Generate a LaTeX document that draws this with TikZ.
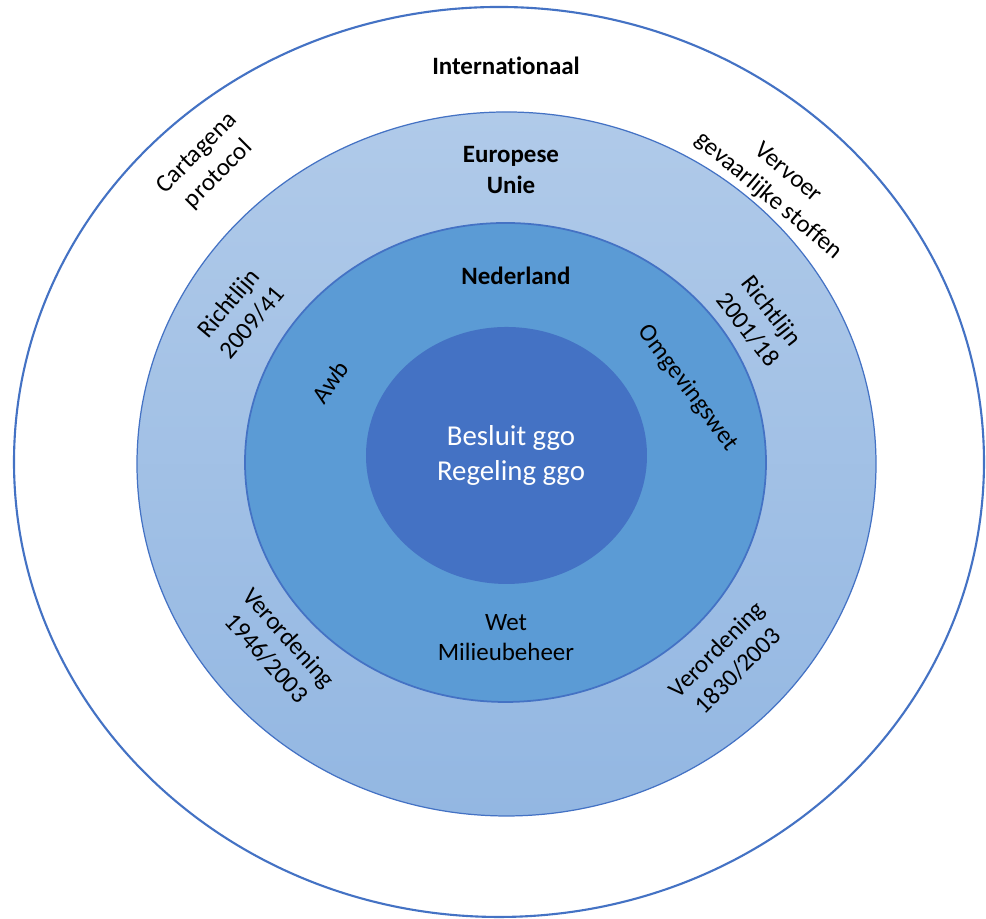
\documentclass[tikz,border=0pt]{standalone}
\usepackage{fontspec}
\setmainfont[Ligatures={NoCommon}]{Carlito}
\usepackage{tikz}
\usepackage{xcolor}

\definecolor{ringline}{HTML}{4472C4}
\definecolor{eutop}{HTML}{B0CAE9}
\definecolor{eubottom}{HTML}{93B7E2}
\definecolor{nlfill}{HTML}{5B9BD5}
\definecolor{corefill}{HTML}{4472C4}

\tikzset{
	lbl/.style={align=center, font=\fontsize{7.1}{8.6}\selectfont, inner sep=0pt},
	lblbold/.style={lbl, font=\fontsize{7.1}{8.6}\selectfont\bfseries},
	corelbl/.style={align=center, font=\fontsize{8.2}{9.9}\selectfont, text=white, inner sep=0pt}
}

\begin{document}
\begin{tikzpicture}
	\useasboundingbox (0,0) rectangle (9.86,9.19);
	\fill[white] (0,0) rectangle (9.86,9.19);
	% rings
	\draw[ringline, line width=0.6pt] (4.99,4.57) ellipse (4.85 and 4.55);
	\shade[top color=eutop, bottom color=eubottom] (5.065,4.55) ellipse (3.695 and 3.52);
	\draw[ringline, line width=0.35pt] (5.065,4.55) ellipse (3.695 and 3.52);
	\draw[ringline, fill=nlfill, line width=0.5pt] (5.055,4.565) ellipse (2.605 and 2.395);
	\fill[corefill] (5.065,4.635) ellipse (1.405 and 1.285);
	
	% titles
	\node[lblbold] (intl) at (5.06,8.53) {Internationaal};
	\node[lblbold] (eu) at (5.11,7.49) {Europese\\Unie};
	\node[lblbold] (nl) at (5.16,6.43) {Nederland};
	\node[corelbl] (core) at (5.11,4.635) {Besluit ggo\\Regeling ggo};
	
	% regulations
	\node[lbl, rotate=45] (cartagena) at (2.08,7.55) {Cartagena\\protocol};
	\node[lbl, rotate=-40] (vervoer) at (7.78,7.34) {Vervoer\\gevaarlijke stoffen};
	\node[lbl, rotate=50] (rl0941) at (2.40,6.06) {Richtlijn\\2009/41};
	\node[lbl, rotate=-52] (rl0118) at (7.60,5.99) {Richtlijn\\2001/18};
	\node[lbl, rotate=55] (awb) at (3.30,5.37) {Awb};
	\node[lbl, rotate=-53] (omgw) at (6.88,5.31) {Omgevingswet};
	\node[lbl] (wm) at (5.06,2.815) {Wet\\Milieubeheer};
	\node[lbl, rotate=-48] (vo1946) at (2.78,2.71) {Verordening\\1946/2003};
	\node[lbl, rotate=45] (vo1830) at (7.27,2.59) {Verordening\\1830/2003};
\end{tikzpicture}
\end{document}
